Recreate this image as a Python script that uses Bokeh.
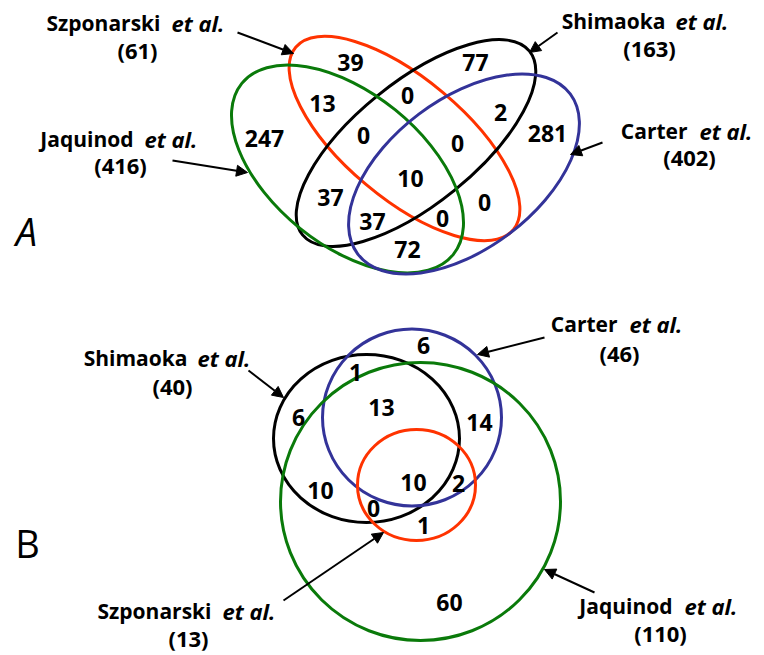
import math
from bokeh.plotting import figure
from bokeh.models import Range1d, ColumnDataSource, Arrow, NormalHead
from bokeh.core.properties import value
from bokeh.embed import file_html
from bokeh.resources import INLINE

# ---------------- data ----------------
study_names_A = ["Szponarski", "Shimaoka", "Jaquinod", "Carter"]
study_totals_A = [61, 163, 416, 402]
region_counts_A = [39, 13, 247, 0, 0, 37, 37, 77, 2, 281, 0, 10, 0, 0, 72]

study_names_B = ["Shimaoka", "Szponarski", "Carter", "Jaquinod"]
study_totals_B = [40, 13, 46, 110]
region_counts_B = [6, 1, 13, 6, 14, 10, 10, 2, 0, 1, 60]

panel_letters = ["A", "B"]

# ---------------- layout (pixel space of the picture) ----------------
FONT = "Open Sans"
RED, GREEN, BLUE, BLACK = "#FF3300", "#0A7A0A", "#333399", "#000000"

# ellipses: cx, cy, semi-major, semi-minor, angle (deg, counter-clockwise on screen), color
shapes_A = [
    (404, 138, 142, 60, -40, RED),
    (415.5, 142.5, 146, 61, 39, BLACK),
    (347, 168.5, 136, 76, -39, GREEN),
    (463.5, 173.5, 133, 75, 37, BLUE),
]
shapes_B = [
    (366, 438, 93, 84, 0, BLACK),
    (411.5, 417, 89.5, 88.5, 0, BLUE),
    (420, 501, 140, 139, 0, GREEN),
    (416, 484.5, 59, 55.5, 0, RED),
]
count_pos_A = [(350, 62), (322, 103), (264, 138), (407, 95), (363, 135), (330, 197),
               (372, 221), (475, 62), (500, 112), (547, 133), (457, 143), (410, 178),
               (484, 202), (442, 218), (407, 249)]
count_pos_B = [(423, 345), (355, 372), (381, 407), (298, 417), (479, 422), (320, 490),
               (413, 482), (458, 483), (373, 508), (423, 525), (449, 602)]

# label: split x (name right / "et al." left), name centre y, total centre x, total centre y
label_pos_A = [(160, 171, 22, 137, 49), (665, 675, 20, 649, 47),
               (133, 144, 138, 120, 164), (687, 699, 130, 689, 156)]
label_pos_B = [(187, 197, 357, 172, 385), (211, 222, 610, 188, 637),
               (617, 629, 323, 619, 352), (672, 684, 605, 660, 632)]
arrows = [((237, 32), (293, 53)), ((172, 160), (247, 172)), ((557, 32), (529, 52)),
          ((602, 142), (570, 154)), ((248, 370), (283, 397)), ((283, 600), (383, 532)),
          ((544, 337), (477, 354)), ((594, 592), (544, 569))]
letter_pos = [(26, 230), (27, 542)]

W, H = 760, 652

# ---------------- figure ----------------
p = figure(width=W, height=H, x_range=Range1d(0, W), y_range=Range1d(H, 0),
           output_backend="svg", toolbar_location=None, min_border=0,
           x_axis_location=None, y_axis_location=None)
p.grid.visible = False
p.outline_line_color = None
p.background_fill_color = "white"

shapes = shapes_A + shapes_B
es = ColumnDataSource(dict(
    x=[s[0] for s in shapes], y=[s[1] for s in shapes],
    w=[2 * s[2] for s in shapes], h=[2 * s[3] for s in shapes],
    a=[math.radians(s[4]) for s in shapes], c=[s[5] for s in shapes]))
p.ellipse(x="x", y="y", width="w", height="h", angle="a", source=es,
          fill_color=None, line_color="c", line_width=3)

counts = region_counts_A + region_counts_B
cpos = count_pos_A + count_pos_B
cs = ColumnDataSource(dict(x=[q[0] for q in cpos], y=[q[1] for q in cpos],
                           t=[str(n) for n in counts]))
p.text(x="x", y="y", text="t", source=cs, text_font=value(FONT), text_font_style="bold",
       text_font_size="23px", text_align="center", text_baseline="middle", text_color="black")

names = study_names_A + study_names_B
totals = study_totals_A + study_totals_B
lpos = label_pos_A + label_pos_B
ns = ColumnDataSource(dict(x=[q[0] for q in lpos], y=[q[2] for q in lpos], t=names))
p.text(x="x", y="y", text="t", source=ns, text_font=value(FONT), text_font_style="bold",
       text_font_size="21px", text_align="right", text_baseline="middle", text_color="black")
es2 = ColumnDataSource(dict(x=[q[1] for q in lpos], y=[q[2] for q in lpos],
                            t=["et al."] * len(lpos)))
p.text(x="x", y="y", text="t", source=es2, text_font=value(FONT), text_font_style="bold italic",
       text_font_size="22px", text_align="left", text_baseline="middle", text_color="black")
ts = ColumnDataSource(dict(x=[q[3] for q in lpos], y=[q[4] for q in lpos],
                           t=[f"({n})" for n in totals]))
p.text(x="x", y="y", text="t", source=ts, text_font=value(FONT), text_font_style="bold",
       text_font_size="22px", text_align="center", text_baseline="middle", text_color="black")

for (x0, y0), (x1, y1) in arrows:
    p.add_layout(Arrow(x_start=x0, y_start=y0, x_end=x1, y_end=y1, line_width=2,
                       line_color="black",
                       end=NormalHead(size=11, fill_color="black", line_color="black", line_width=1)))

ls = ColumnDataSource(dict(x=[q[0] for q in letter_pos], y=[q[1] for q in letter_pos],
                           t=panel_letters, st=["italic", "normal"]))
p.text(x="x", y="y", text="t", source=ls, text_font=value(FONT), text_font_size="38px",
       text_font_style="st", text_align="center", text_baseline="middle", text_color="black")

open("out.html", "w").write(file_html(p, INLINE))
